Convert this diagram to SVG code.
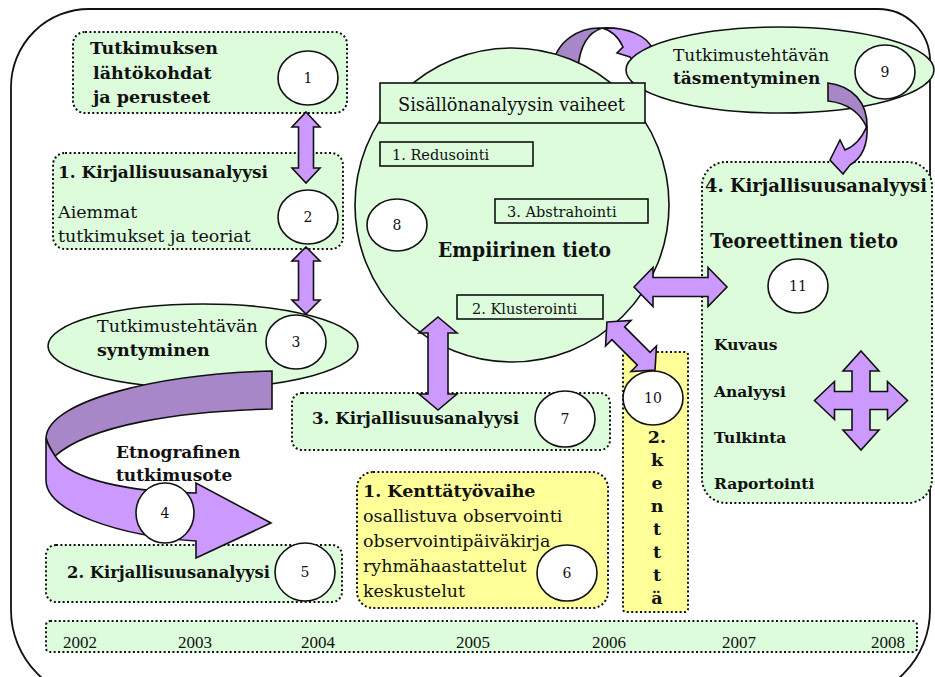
<svg xmlns="http://www.w3.org/2000/svg" width="935" height="677" viewBox="0 0 935 677">
  <style>
    text { font-family: "DejaVu Serif", "Liberation Serif", serif; fill: #111; }
    .b { font-weight: bold; }
    .yr { font-family: "Liberation Serif", "Times New Roman", serif; font-size: 17px; }
    .box { fill: #dcfcdc; stroke: #111; stroke-width: 2; stroke-dasharray: 2 2.4; }
    .ybox { fill: #ffff99; stroke: #111; stroke-width: 2; stroke-dasharray: 2 2.4; }
    .green { fill: #dcfcdc; stroke: #111; stroke-width: 1.6; }
    .num { fill: #fff; stroke: #111; stroke-width: 1.6; }
    .numt { font-size: 14px; text-anchor: middle; }
    .arr { fill: #cc99ff; stroke: #111; stroke-width: 1.6; stroke-linejoin: miter; }
    .dark { fill: #a887c8; stroke: #111; stroke-width: 1.6; }
    .rect { fill: #dcfcdc; stroke: #111; stroke-width: 1.6; }
  </style>

  <!-- outer frame -->
  <path d="M90,9 H878 A52,52 0 0 1 930,61 V610 A90,90 0 0 1 840,700 H101 A90,90 0 0 1 11,610 V87 A78,78 0 0 1 90,9 Z" fill="none" stroke="#111" stroke-width="1.8"/>

  <!-- curved arrow over the central circle (behind it) -->
  <g id="loop-arrow">
    <path class="dark" d="M552,68 C556,40 580,27 602,28 C590,32 580,44 578,68 Z"/>
    <path class="arr" d="M602,28 C628,27 648,36 653,50 L640,70 L630,57 L617,53 L623,47 C618,36 610,30 602,28 Z"/>
  </g>

  <!-- node 8: empirical knowledge circle -->
  <g id="node8">
    <circle cx="512" cy="205" r="157" class="green"/>
  </g>

  <!-- node 9 -->
  <g id="node9">
    <ellipse cx="780" cy="70" rx="154" ry="43" class="green"/>
    <text x="673" y="61" font-size="17">Tutkimustehtävän</text>
    <text x="673" y="84" font-size="17" class="b">täsmentyminen</text>
    <ellipse cx="885" cy="72" rx="30" ry="27" class="num"/>
    <text x="885" y="77" class="numt">9</text>
  </g>

  <g id="node8-content">
    <rect x="380" y="83" width="265" height="40" class="rect"/>
    <text x="398" y="111" font-size="18" textLength="227" lengthAdjust="spacingAndGlyphs">Sisällönanalyysin vaiheet</text>
    <rect x="380" y="142" width="153" height="24" class="rect"/>
    <text x="392" y="160" font-size="14.5">1. Redusointi</text>
    <rect x="495" y="199" width="153" height="24" class="rect"/>
    <text x="507" y="217" font-size="14.5">3. Abstrahointi</text>
    <rect x="457" y="295" width="146" height="24" class="rect"/>
    <text x="472" y="314" font-size="14.5">2. Klusterointi</text>
    <ellipse cx="397" cy="225" rx="30" ry="26" class="num"/>
    <text x="397" y="230" class="numt">8</text>
    <text x="438" y="257" font-size="19.5" class="b" textLength="173" lengthAdjust="spacingAndGlyphs">Empiirinen tieto</text>
  </g>

  <!-- node 1 -->
  <g id="node1">
    <rect x="73" y="32" width="274" height="81" rx="12" class="box"/>
    <text x="90" y="54" font-size="17.5" class="b">Tutkimuksen</text>
    <text x="93" y="79" font-size="17.5" class="b">lähtökohdat</text>
    <text x="93" y="103" font-size="17.5" class="b">ja perusteet</text>
    <ellipse cx="308" cy="78" rx="30" ry="27" class="num"/>
    <text x="308" y="83" class="numt">1</text>
  </g>

  <!-- node 2 -->
  <g id="node2">
    <rect x="53" y="153" width="290" height="96" rx="12" class="box"/>
    <text x="58" y="178" font-size="17.5" class="b" textLength="210" lengthAdjust="spacingAndGlyphs">1. Kirjallisuusanalyysi</text>
    <text x="58" y="218" font-size="17.5">Aiemmat</text>
    <text x="58" y="242" font-size="17.5">tutkimukset ja teoriat</text>
    <ellipse cx="308" cy="217" rx="30" ry="27" class="num"/>
    <text x="308" y="222" class="numt">2</text>
  </g>

  <!-- node 3 -->
  <g id="node3">
    <ellipse cx="203" cy="346" rx="155" ry="42" class="green"/>
    <text x="97" y="332" font-size="17.5">Tutkimustehtävän</text>
    <text x="97" y="356" font-size="17.5" class="b">syntyminen</text>
    <ellipse cx="296" cy="342" rx="30" ry="27" class="num"/>
    <text x="296" y="347" class="numt">3</text>
  </g>

  <!-- node 5 -->
  <g id="node5">
    <rect x="46" y="545" width="296" height="57" rx="10" class="box"/>
    <text x="67" y="578" font-size="17.5" class="b" textLength="203" lengthAdjust="spacingAndGlyphs">2. Kirjallisuusanalyysi</text>
    <ellipse cx="305" cy="572" rx="30" ry="29" class="num"/>
    <text x="305" y="577" class="numt">5</text>
  </g>

  <!-- node 4: curved arrow with label -->
  <g id="node4">
    <path class="dark" d="M272,371 C160,374 48,400 46,438 C48,446 52,451 55,456 C90,425 180,411 272,409 Z"/>
    <path class="arr" d="M46,438 L46,480 C46,512 120,536 196,541 L196,558 L271,523 L196,483 L196,493 C130,492 70,480 55,456 C52,451 48,446 46,438 Z"/>
    <text x="116" y="458" font-size="17" class="b">Etnografinen</text>
    <text x="116" y="481" font-size="17" class="b">tutkimusote</text>
    <ellipse cx="165" cy="513" rx="29" ry="30" class="num"/>
    <text x="165" y="518" class="numt">4</text>
  </g>

  <!-- node 7 -->
  <g id="node7">
    <rect x="292" y="393" width="318" height="57" rx="10" class="box"/>
    <text x="312" y="424" font-size="17.5" class="b" textLength="207" lengthAdjust="spacingAndGlyphs">3. Kirjallisuusanalyysi</text>
    <ellipse cx="565" cy="419" rx="30" ry="28" class="num"/>
    <text x="565" y="424" class="numt">7</text>
  </g>

  <!-- node 6 -->
  <g id="node6">
    <rect x="357" y="472" width="251" height="136" rx="16" class="ybox"/>
    <text x="363" y="497" font-size="17.5" class="b">1. Kenttätyövaihe</text>
    <text x="363" y="522" font-size="17.5">osallistuva observointi</text>
    <text x="363" y="547" font-size="17.5">observointipäiväkirja</text>
    <text x="363" y="572" font-size="17.5">ryhmähaastattelut</text>
    <text x="363" y="597" font-size="17.5">keskustelut</text>
    <ellipse cx="567" cy="573" rx="30" ry="28" class="num"/>
    <text x="567" y="578" class="numt">6</text>
  </g>

  <!-- node 10 -->
  <g id="node10">
    <rect x="623" y="352" width="65" height="260" rx="3" class="ybox"/>
    <g font-size="17.5" text-anchor="middle">
      <text x="657" y="443" class="b">2.</text>
      <text x="657" y="466" class="b">k</text>
      <text x="657" y="489" class="b">e</text>
      <text x="657" y="512" class="b">n</text>
      <text x="657" y="535" class="b">t</text>
      <text x="657" y="558" class="b">t</text>
      <text x="657" y="581" class="b">t</text>
      <text x="657" y="604" class="b">ä</text>
    </g>
  </g>

  <!-- node 11 -->
  <g id="node11">
    <rect x="702" y="162" width="230" height="341" rx="24" class="box"/>
    <text x="705" y="192" font-size="18" class="b" textLength="222" lengthAdjust="spacingAndGlyphs">4. Kirjallisuusanalyysi</text>
    <text x="710" y="248" font-size="19.5" class="b" textLength="188" lengthAdjust="spacingAndGlyphs">Teoreettinen tieto</text>
    <ellipse cx="798" cy="286" rx="30" ry="27" class="num"/>
    <text x="798" y="291" class="numt">11</text>
    <text x="714" y="350" font-size="15.5" class="b">Kuvaus</text>
    <text x="714" y="397" font-size="15.5" class="b">Analyysi</text>
    <text x="714" y="443" font-size="15.5" class="b">Tulkinta</text>
    <text x="714" y="489" font-size="15.5" class="b">Raportointi</text>
    <polygon class="arr" transform="translate(861,400.5)" points="0,-49.5 18,-29.5 9,-29.5 9,-9 26.5,-9 26.5,-19 46.5,0 26.5,19 26.5,9 9,9 9,29.5 18,29.5 0,49.5 -18,29.5 -9,29.5 -9,9 -26.5,9 -26.5,19 -46.5,0 -26.5,-19 -26.5,-9 -9,-9 -9,-29.5 -18,-29.5"/>
  </g>

  <!-- connectors -->
  <g id="connectors">
    <polygon class="arr" points="306,112 320,127 313.5,127 313.5,168 320,168 306,183 292,168 298.5,168 298.5,127 292,127"/>
    <polygon class="arr" points="306,247 320,261 313.5,261 313.5,300 320,300 306,314 292,300 298.5,300 298.5,261 292,261"/>
    <polygon class="arr" points="438,317 457,333 448,333 448,394 457,394 438,410 419,394 428,394 428,333 419,333"/>
    <polygon class="arr" points="634,287 653,267.5 653,277.5 708,277.5 708,267.5 727,287 708,306.5 708,296.5 653,296.5 653,306.5"/>
    <polygon class="arr" transform="translate(631,346) rotate(45)" points="-34,0 -18,-18 -18,-9 18,-9 18,-18 34,0 18,18 18,9 -18,9 -18,18"/>
    <!-- curved arrow from node 9 down to node 11 -->
    <path class="dark" d="M828,83 C852,86 868,102 867,128 C860,112 846,103 828,101 Z"/>
    <path class="arr" d="M867,126 C868,145 862,158 850,165 L843,174 L830,160 L840,140 L845,150 C855,146 862,138 867,126 Z"/>
  </g>

  <!-- node 10 number sits on top of the diagonal connector -->
  <g id="node10-num">
    <ellipse cx="653" cy="398" rx="30" ry="27" class="num"/>
    <text x="653" y="403" class="numt">10</text>
  </g>

  <!-- timeline -->
  <g id="timeline">
    <rect x="46" y="621" width="871" height="31" rx="4" class="box"/>
    <text x="63" y="648" class="yr">2002</text>
    <text x="178" y="648" class="yr">2003</text>
    <text x="301" y="648" class="yr">2004</text>
    <text x="456" y="648" class="yr">2005</text>
    <text x="592" y="648" class="yr">2006</text>
    <text x="722" y="648" class="yr">2007</text>
    <text x="871" y="648" class="yr">2008</text>
  </g>
</svg>
